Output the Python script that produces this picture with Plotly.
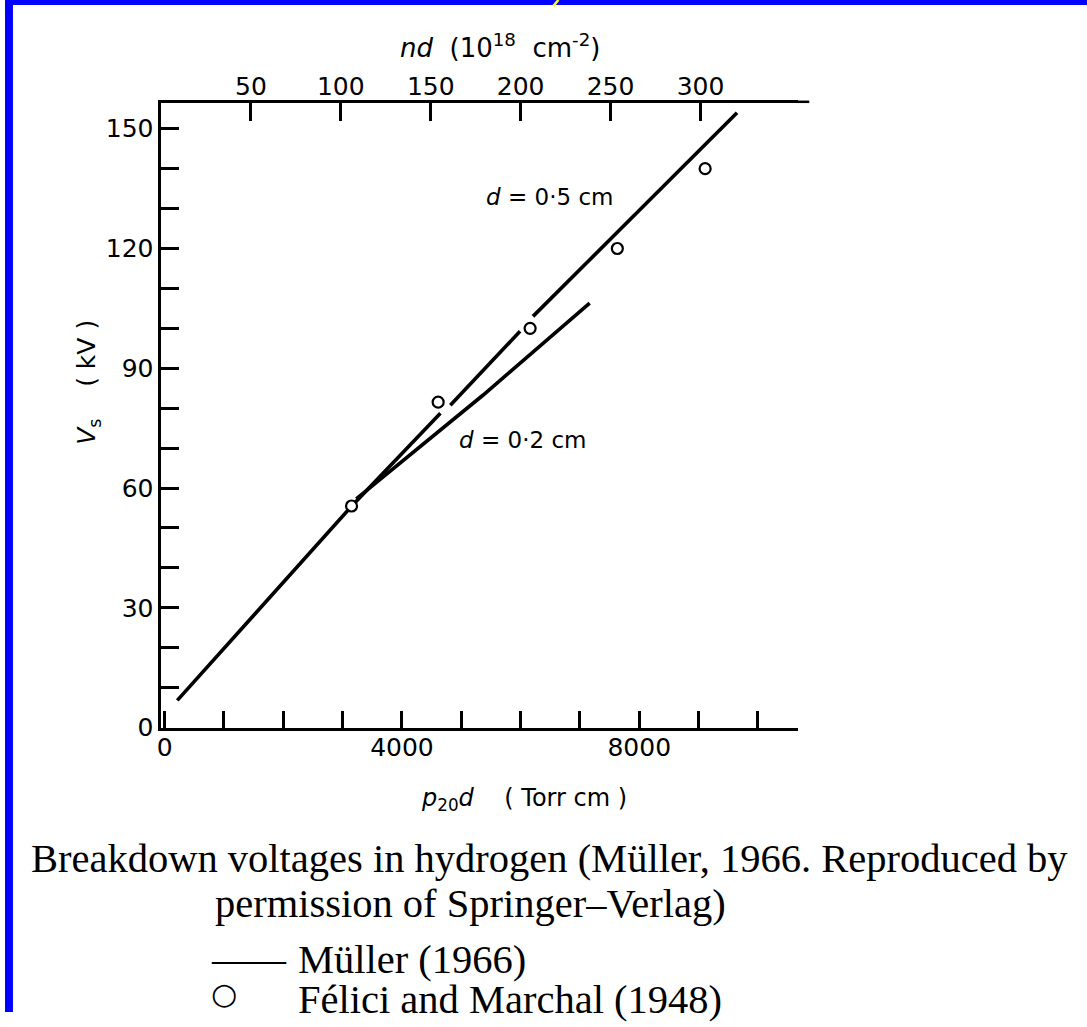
import plotly.graph_objects as go

# ---------------- data ----------------
x_tickvals = [0, 4000, 8000]
x_ticktext = ["0", "4000", "8000"]
y_tickvals = [0, 30, 60, 90, 120, 150]
y_ticktext = ["0", "30", "60", "90", "120", "150"]
nd_tickvals = [50, 100, 150, 200, 250, 300]
nd_ticktext = ["50", "100", "150", "200", "250", "300"]

# Müller (1966), d = 0.5 cm  (line broken where it passes the data circles)
p20d_d05 = [213, 3154, 4648, None, 4815, 5990, None, 6208, 9648]
vs_d05 = [6.8, 55.5, 78.75, None, 80.75, 99.25, None, 103.0, 154.0]

# Müller (1966), d = 0.2 cm
p20d_d02 = [3230, 5369, 7164]
vs_d02 = [57.3, 83.3, 106.3]

# Félici and Marchal (1948)
p20d_fm = [3150, 4610, 6160, 7630, 9110]
vs_fm = [55.5, 81.5, 100, 120, 140]

W, H = 1087, 1027
HY = 1014  # effective vertical extent used for placing things in paper space
SANS = "DejaVu Sans"
SERIF = "Liberation Serif"


def P(x, y):
    return x / W, 1 - y / HY


fig = go.Figure()

fig.add_trace(go.Scatter(x=p20d_d05, y=vs_d05, mode="lines",
                         line=dict(color="black", width=3.6),
                         connectgaps=False, name="Müller (1966) d=0.5 cm"))
fig.add_trace(go.Scatter(x=p20d_d02, y=vs_d02, mode="lines",
                         line=dict(color="black", width=3.6),
                         name="Müller (1966) d=0.2 cm"))
fig.add_trace(go.Scatter(x=p20d_fm, y=vs_fm, mode="markers",
                         marker=dict(symbol="circle", size=11, color="white",
                                     line=dict(color="black", width=2.2)),
                         name="Félici and Marchal (1948)"))
# carrier for the top (nd) axis
fig.add_trace(go.Scatter(x=[], y=[], xaxis="x2", yaxis="y", showlegend=False))

tickfont = dict(family=SANS, size=25, color="black")

fig.update_layout(
    width=W, height=H, autosize=False,
    margin=dict(l=0, r=0, t=0, b=0),
    paper_bgcolor="white", plot_bgcolor="white",
    showlegend=False,
    xaxis=dict(
        domain=[157 / W, 797 / W], range=[-57, 10681],
        tickmode="array", tickvals=x_tickvals, ticktext=x_ticktext,
        ticks="inside", ticklen=17, tickwidth=2.5, tickcolor="black",
        minor=dict(tickmode="linear", tick0=0, dtick=1000, ticks="inside",
                   ticklen=17, tickwidth=2.5, tickcolor="black", showgrid=False),
        showline=True, linecolor="black", linewidth=2.5,
        showgrid=False, zeroline=False, anchor="y", ticklabelstandoff=-4,
        tickfont=tickfont, fixedrange=True,
    ),
    xaxis2=dict(
        overlaying="x", side="top", anchor="y",
        range=[0.17, 354.4],
        tickmode="array", tickvals=nd_tickvals, ticktext=nd_ticktext,
        ticks="inside", ticklen=18, tickwidth=2.5, tickcolor="black",
        showline=True, linecolor="black", linewidth=2.5,
        showgrid=False, zeroline=False, ticklabelstandoff=-5,
        tickfont=tickfont, fixedrange=True,
    ),
    yaxis=dict(
        domain=[1 - 729 / HY, 1 - 103 / HY], range=[0, 156.5],
        tickmode="array", tickvals=y_tickvals, ticktext=y_ticktext,
        ticks="inside", ticklen=18, tickwidth=2.5, tickcolor="black",
        minor=dict(tickmode="linear", tick0=0, dtick=10, ticks="inside",
                   ticklen=18, tickwidth=2.5, tickcolor="black", showgrid=False),
        showline=True, linecolor="black", linewidth=2.5,
        showgrid=False, zeroline=False, anchor="x",
        tickfont=tickfont, fixedrange=True,
    ),
)

ann = []


def add_text(px, py, text, size, family=SANS, xanchor="center", angle=0, color="black"):
    x, y = P(px, py)
    ann.append(dict(x=x, y=y, xref="paper", yref="paper", text=text,
                    showarrow=False, xanchor=xanchor, yanchor="middle",
                    textangle=angle, font=dict(family=family, size=size, color=color)))


# curve labels (data coordinates)
ann.append(dict(x=6487, y=133.0, xref="x", yref="y", showarrow=False,
                text="<i>d</i> = 0·5 cm", font=dict(family=SANS, size=23, color="black")))
ann.append(dict(x=6034, y=72.0, xref="x", yref="y", showarrow=False,
                text="<i>d</i> = 0·2 cm", font=dict(family=SANS, size=23, color="black")))

# axis titles
add_text(497, 46, "<i>nd</i>  (10<sup>18</sup>  cm<sup>-2</sup>)", 26)
add_text(84, 383, "<i>V</i><sub>s</sub>    ( kV )", 25, angle=-90)
add_text(521, 801, "<i>p</i><sub>20</sub><i>d</i>    ( Torr cm )", 24)

# caption and key
CAP = 40.5
add_text(24, 860, "Breakdown voltages in hydrogen (Müller, 1966. Reproduced by", CAP,
         family=SERIF, xanchor="left")
add_text(209, 905, "permission of Springer–Verlag)", CAP, family=SERIF, xanchor="left")
add_text(205, 961, "——", 37, family=SERIF, xanchor="left")
add_text(292, 961, "Müller (1966)", CAP, family=SERIF, xanchor="left")
add_text(220, 995, "○", 30, family=SANS, xanchor="center")
add_text(292, 1001, "Félici and Marchal (1948)", CAP, family=SERIF, xanchor="left")

fig.update_layout(annotations=ann)

shapes = [
    # blue slide frame
    dict(type="rect", xref="paper", yref="paper", x0=0, x1=1, y0=1 - 5 / H, y1=1,
         fillcolor="#0000ff", line=dict(width=0), layer="above"),
    dict(type="rect", xref="paper", yref="paper", x0=0, x1=8 / W, y0=0, y1=1,
         fillcolor="#0000ff", line=dict(width=0), layer="above"),
    # fragment of slide title
    dict(type="line", xref="paper", yref="paper", x0=556 / W, x1=551 / W,
         y0=1, y1=1 - 6 / H, line=dict(color="#ffff00", width=2.5), layer="above"),
    # top axis line overhang
    dict(type="line", xref="paper", yref="paper", x0=796 / W, x1=808 / W,
         y0=1 - 102 / HY, y1=1 - 102 / HY, line=dict(color="black", width=2.5)),
]
fig.update_layout(shapes=shapes)

fig.write_html("out.html")
